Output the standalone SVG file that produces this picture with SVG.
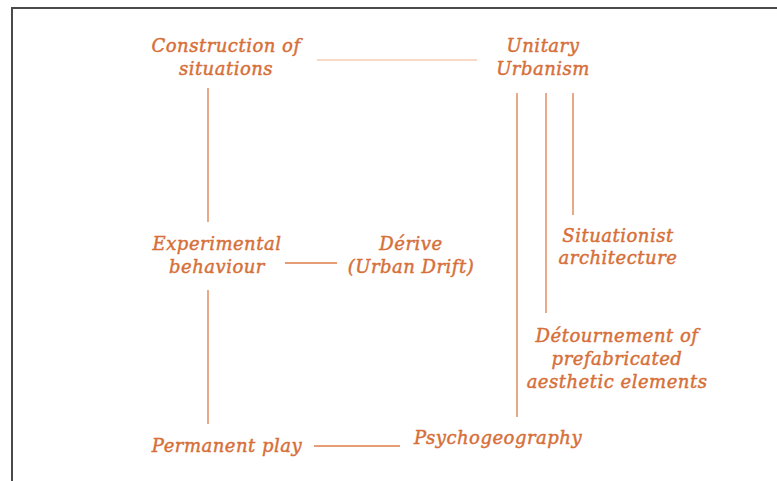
<svg xmlns="http://www.w3.org/2000/svg" width="777" height="481" viewBox="0 0 777 481">
  <style>
    .lbl { font-family: "DejaVu Serif", "Liberation Serif", serif; font-style: italic; font-size: 18px; fill: #d66f38; stroke: #d66f38; stroke-width: 0.45; text-anchor: middle; letter-spacing: 0.5px; }
    .link { stroke: #dc7c48; stroke-width: 1.3; fill: none; }
    .link-soft { stroke: #f0b48c; stroke-width: 1.2; fill: none; }
    .frame { stroke: #4a4a4a; stroke-width: 2; fill: none; }
  </style>
  <rect width="777" height="481" fill="#ffffff"/>
  <path class="frame" d="M12,482 V8 H778"/>

  <g id="connectors">
    <line class="link-soft" x1="317" y1="60" x2="477" y2="60"/>
    <line class="link" x1="208" y1="88" x2="208" y2="222"/>
    <line class="link" x1="208" y1="290" x2="208" y2="424"/>
    <line class="link" x1="285" y1="263" x2="337" y2="263"/>
    <line class="link" x1="314" y1="446" x2="400" y2="446"/>
    <line class="link" x1="517" y1="93" x2="517" y2="417"/>
    <line class="link" x1="546" y1="93" x2="546" y2="313"/>
    <line class="link" x1="573" y1="93" x2="573" y2="215"/>
  </g>

  <g id="construction-of-situations">
    <text class="lbl" x="226" y="52">Construction of</text>
    <text class="lbl" x="226" y="75">situations</text>
  </g>
  <g id="unitary-urbanism">
    <text class="lbl" x="543" y="52">Unitary</text>
    <text class="lbl" x="543" y="75">Urbanism</text>
  </g>
  <g id="experimental-behaviour">
    <text class="lbl" x="217" y="250">Experimental</text>
    <text class="lbl" x="217" y="273">behaviour</text>
  </g>
  <g id="derive">
    <text class="lbl" x="411" y="250">Dérive</text>
    <text class="lbl" x="411" y="273">(Urban Drift)</text>
  </g>
  <g id="situationist-architecture">
    <text class="lbl" x="618" y="242">Situationist</text>
    <text class="lbl" x="618" y="264">architecture</text>
  </g>
  <g id="detournement">
    <text class="lbl" x="617" y="342">Détournement of</text>
    <text class="lbl" x="617" y="365">prefabricated</text>
    <text class="lbl" x="617" y="388">aesthetic elements</text>
  </g>
  <g id="permanent-play">
    <text class="lbl" x="227" y="452">Permanent play</text>
  </g>
  <g id="psychogeography">
    <text class="lbl" x="498" y="444">Psychogeography</text>
  </g>
</svg>
